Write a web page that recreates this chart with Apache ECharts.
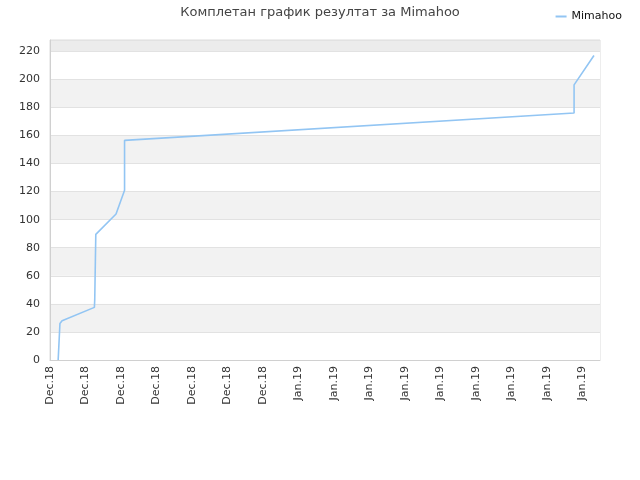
<!DOCTYPE html>
<html>
<head>
<meta charset="utf-8">
<script src="https://cdn.jsdelivr.net/npm/echarts@6/dist/echarts.min.js"></script>
<style>
  html, body { margin: 0; padding: 0; background: #fff; }
  #chart { width: 640px; height: 480px; }
</style>
</head>
<body>
<div id="chart"></div>
<script>
// x in tick steps from the first label, y = cumulative result
var xVals = [0.23, 0.28, 0.34, 1.25, 1.26, 1.29, 1.86, 2.10, 2.10, 14.76, 14.76, 15.32];
var yVals = [0, 26, 28, 37.5, 43, 89.5, 104, 121, 156.5, 176, 196, 217];
var tickLabels = ['Dec.18', 'Dec.18', 'Dec.18', 'Dec.18', 'Dec.18', 'Dec.18', 'Dec.18',
                  'Jan.19', 'Jan.19', 'Jan.19', 'Jan.19', 'Jan.19', 'Jan.19', 'Jan.19', 'Jan.19', 'Jan.19'];
var playerName = 'Mimahoo';

var font = 'DejaVu Sans';
var points = xVals.map(function(x, i) {
    return [x, yVals[i]];
});

// полосе: бело / сиво, горња трака мало тамнија
var bands = [];
for (var i = 0; i < 11; i++) {
    bands.push(i % 2 == 0 ? '#ffffff' : '#f2f2f2');
}
bands.push('#ececec');

var myChart = echarts.init(document.getElementById('chart'));
var option = {
    animation: false,
    textStyle: { fontFamily: font },
    title: {
        text: 'Комплетан график резултат за ' + playerName,
        left: 'center',
        top: 1,
        textStyle: { fontSize: 13, fontWeight: 'normal', color: '#444', fontFamily: font }
    },
    legend: {
        right: 13,
        top: 6,
        icon: 'rect',
        itemWidth: 11,
        itemHeight: 2,
        itemGap: 8,
        textStyle: { fontSize: 11, color: '#111', fontFamily: font },
        data: [playerName]
    },
    grid: {
        left: 50,
        right: 40,
        top: 40,
        bottom: 120,
        show: true,
        borderColor: '#dcdcdc',
        borderWidth: 1
    },
    xAxis: {
        type: 'value',
        min: 0,
        max: 15.49,
        interval: 1,
        axisLine: { show: true, lineStyle: { color: '#d0d0d0' } },
        axisTick: { show: false },
        splitLine: { show: false },
        axisLabel: {
            rotate: 90,
            fontSize: 11,
            color: '#333',
            margin: 6,
            showMaxLabel: false,
            formatter: function(v) {
                var idx = Math.round(v);
                return tickLabels[idx] || '';
            }
        }
    },
    yAxis: {
        type: 'value',
        min: 0,
        max: 228,
        interval: 20,
        axisLine: { show: true, lineStyle: { color: '#d0d0d0' } },
        axisTick: { show: false },
        axisLabel: { fontSize: 11, color: '#333', margin: 10, showMaxLabel: false },
        splitLine: { lineStyle: { color: '#e2e2e2' } },
        splitArea: { show: true, areaStyle: { color: bands } }
    },
    series: [
        {
            name: playerName,
            type: 'line',
            showSymbol: false,
            data: points,
            itemStyle: { color: '#92c5f3' },
            lineStyle: { width: 1.6, color: '#92c5f3' }
        }
    ]
};
myChart.setOption(option);
</script>
</body>
</html>
